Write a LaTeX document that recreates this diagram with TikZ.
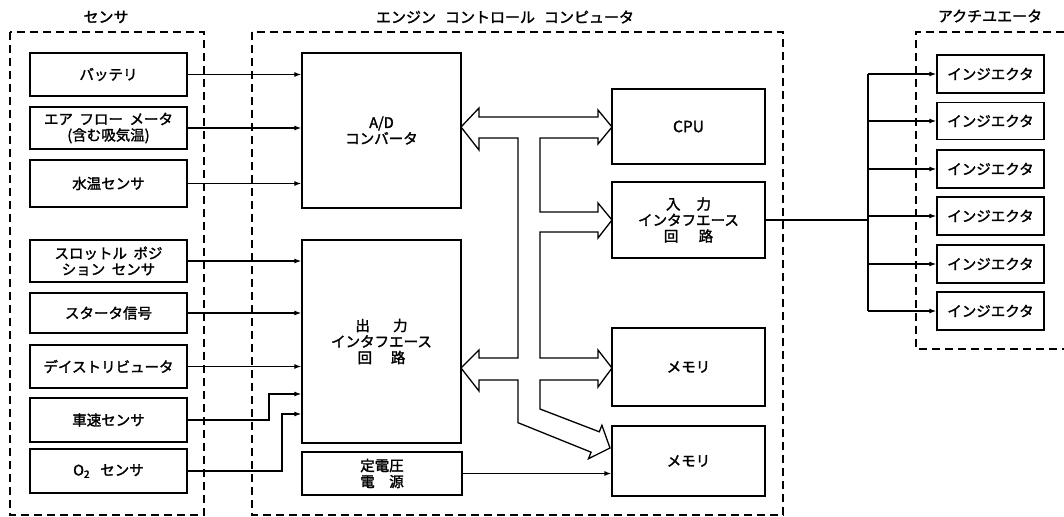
\documentclass[tikz,border=0pt]{standalone}
\usepackage{fontspec}
\newfontfamily\jp[FakeBold=1.8]{Noto Sans CJK JP}
\usetikzlibrary{arrows.meta}
\newcommand\jsp{\hspace{0.45em}}
\newcommand\bx[6]{\node[box, minimum width=#4pt, minimum height=#5pt] (#1) at (#2,#3) {#6};}
\begin{document}
\begin{tikzpicture}[x=1pt,y=-1pt,
  box/.style={draw, line width=1.3pt, inner sep=0pt, align=center, font=\jp\fontsize{14.5}{16}\selectfont},
  dashbox/.style={draw, line width=1.1pt, dash pattern=on 8pt off 5pt},
  conn/.style={line width=1.2pt},
  arr/.style={conn, -{Latex[length=7pt,width=5pt]}},
  ttl/.style={font=\jp\fontsize{15}{16}\selectfont},
  bus/.style={line width=1.3pt, line join=miter}]
\useasboundingbox (0,0) rectangle (1064,516);
% group frames
\draw[dashbox] (10,32) rectangle (204,515);
\draw[dashbox] (252,32) rectangle (783,515);
\draw[dashbox] (1064,32) -- (916,32) -- (916,349) -- (1064,349);
\node[ttl] (t1) at (106,17) {センサ};
\node[ttl] (t2) at (505,17) {エンジン\hspace{0.6em}コントロール\hspace{0.6em}コンピュータ};
\node[ttl] (t3) at (990,16) {アクチユエータ};
% sensors
\bx{bat}{108.5}{74.5}{157}{43}{バッテリ}
\bx{air}{108.5}{128}{157}{42}{エア\jsp フロー\jsp メータ\\(含む吸気温)}
\bx{wat}{108.5}{183.5}{157}{47}{水温センサ}
\bx{thr}{108.5}{261}{157}{42}{スロットル\jsp ポジ\\ション\jsp センサ}
\bx{sta}{108.5}{313}{157}{40}{スタータ信号}
\bx{dis}{108.5}{366.5}{157}{43}{デイストリビュータ}
\bx{spd}{108.5}{420}{157}{44}{車速センサ}
\bx{oxy}{108.5}{471}{157}{44}{O\textsubscript{2}\hspace{0.7em}センサ}
% computer
\bx{adc}{381.5}{130.5}{159}{155}{A/D\\コンバータ}
\bx{oif}{381.5}{341.5}{159}{203}{出\hspace{1.6em}力\\インタフエース\\回\hspace{1.3em}路}
\bx{psu}{382}{473.5}{160}{43}{定電圧\\電\hspace{1em}源}
\bx{cpu}{688.5}{126.5}{153}{75}{\fontsize{15.5}{16}\selectfont CPU}
\bx{iif}{688.5}{220}{153}{76}{入\hspace{1.1em}力\\インタフエース\\回\hspace{1.4em}路}
\bx{mem1}{688.5}{367}{153}{78}{メモリ}
\bx{mem2}{688.5}{461}{153}{70}{メモリ}
% injectors
\bx{inj1}{990.5}{74}{107}{38}{インジエクタ}
\bx{inj2}{990.5}{121}{107}{37}{インジエクタ}
\bx{inj3}{990.5}{169}{107}{38}{インジエクタ}
\bx{inj4}{990.5}{216}{107}{38}{インジエクタ}
\bx{inj5}{990.5}{264}{107}{38}{インジエクタ}
\bx{inj6}{990.5}{311}{107}{38}{インジエクタ}
% sensor connectors
\foreach \s in {bat,air,wat} \draw[arr] (\s.east) -- (\s.east -| adc.west);
\foreach \s in {thr,sta,dis} \draw[arr] (\s.east) -- (\s.east -| oif.west);
\coordinate (sp1) at (269,394);
\coordinate (ox1) at (282,414);
\draw[arr] (spd.east) -| (sp1) -- (sp1 -| oif.west);
\draw[arr] (oxy.east) -| (ox1) -- (ox1 -| oif.west);
\draw[arr] (psu.east) -- (psu.east -| mem2.west);
% bus
\draw[bus, fill=white] (461,127) -- (479,108) -- (479,117) -- (598,117) -- (598,110) -- (612,127) -- (598,144) -- (598,138) -- (540,138) -- (540,212) -- (598,212) -- (598,203) -- (612,220) -- (598,238) -- (598,232) -- (540,232) -- (540,358) -- (598,358) -- (598,350) -- (612,368) -- (598,387) -- (598,380) -- (540,380) -- (540,409) -- (599.3,431.8) -- (601.9,425.3) -- (610,448) -- (588.5,458.7) -- (591.1,452.2) -- (518,422.7) -- (518,380) -- (479,380) -- (479,391) -- (461,368) -- (479,350) -- (479,358) -- (518,358) -- (518,138) -- (479,138) -- (479,150) -- cycle;
% injector distribution
\coordinate (jb) at (868,220);
\draw[conn] (iif.east) -- (iif.east -| jb);
\draw[conn] (jb |- inj1.west) -- (jb |- inj6.west);
\foreach \i in {1,...,6} \draw[arr] (jb |- inj\i.west) -- (inj\i.west);
\end{tikzpicture}
\end{document}
